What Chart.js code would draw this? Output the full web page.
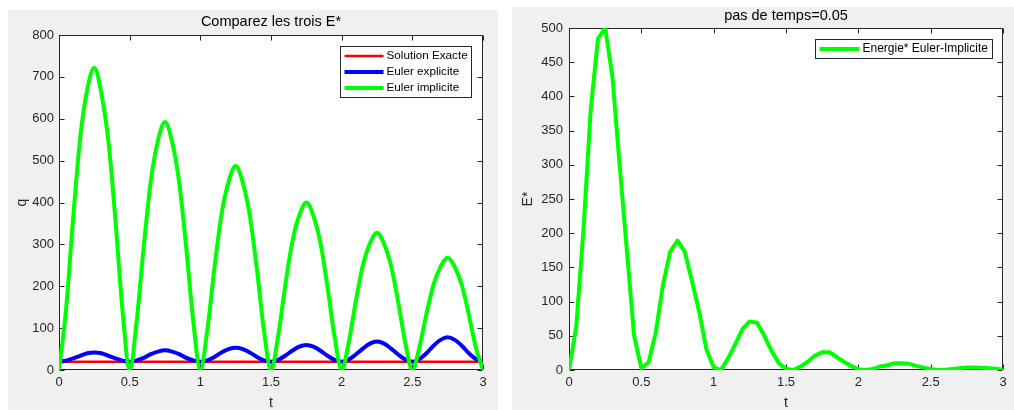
<!DOCTYPE html>
<html>
<head>
<meta charset="utf-8">
<script src="https://cdn.jsdelivr.net/npm/chart.js@4.4.0/dist/chart.umd.min.js"></script>
<style>
    body { margin: 0; background: #fff; width: 1014px; height: 410px; overflow: hidden; position: relative; }
    .panel { position: absolute; background: #f0f0f0; }
    canvas { display: block; }
</style>
</head>
<body>
<div class="panel" style="left:8px;top:10px;width:490px;height:400px">
    <canvas id="chartLeft" width="490" height="400"></canvas>
</div>
<div class="panel" style="left:512px;top:7px;width:502px;height:403px">
    <canvas id="chartRight" width="502" height="403"></canvas>
</div>
<script>
const FONT = '"Liberation Sans", Arial, sans-serif'

const tValues = [
    0, 0.05, 0.1, 0.15, 0.2, 0.25, 0.3, 0.35, 0.4, 0.45, 0.5,
    0.55, 0.6, 0.65, 0.7, 0.75, 0.8, 0.85, 0.9, 0.95, 1,
    1.05, 1.1, 1.15, 1.2, 1.25, 1.3, 1.35, 1.4, 1.45, 1.5,
    1.55, 1.6, 1.65, 1.7, 1.75, 1.8, 1.85, 1.9, 1.95, 2,
    2.05, 2.1, 2.15, 2.2, 2.25, 2.3, 2.35, 2.4, 2.45, 2.5,
    2.55, 2.6, 2.65, 2.7, 2.75, 2.8, 2.85, 2.9, 2.95, 3
]

// left plot: Comparez les trois E*
const exactValues = [
    20, 20, 20, 20, 20, 20, 20, 20, 20, 20, 20,
    20, 20, 20, 20, 20, 20, 20, 20, 20, 20,
    20, 20, 20, 20, 20, 20, 20, 20, 20, 20,
    20, 20, 20, 20, 20, 20, 20, 20, 20, 20,
    20, 20, 20, 20, 20, 20, 20, 20, 20, 20,
    20, 20, 20, 20, 20, 20, 20, 20, 20, 20
]
const explicitValues = [
    20, 22, 28, 34, 40, 42, 40, 34, 28, 22, 20,
    23, 29, 38, 44, 47, 44, 38, 29, 23, 20,
    23, 31, 42, 50, 53, 50, 42, 31, 23, 20,
    24, 34, 46, 56, 60, 56, 46, 34, 24, 20,
    25, 37, 51, 63, 68, 63, 51, 37, 25, 20,
    26, 40, 58, 72, 78, 72, 58, 40, 26, 20
]
const implicitValues = [
    0, 145, 362, 555, 670, 722, 660, 545, 355, 140, 0,
    118, 296, 452, 548, 592, 545, 449, 293, 116, 0,
    97, 244, 372, 450, 487, 448, 369, 241, 95, 0,
    80, 200, 305, 369, 400, 368, 303, 198, 79, 0,
    66, 164, 250, 302, 328, 301, 248, 162, 65, 0,
    54, 134, 204, 247, 268, 246, 203, 132, 53, 0
]

// right plot: pas de temps=0.05
const energyValues = [
    0, 63, 205, 380, 484, 500, 429, 300, 175, 50, 3,
    11, 55, 125, 173, 189, 173, 130, 85, 30, 4,
    0, 17, 38, 60, 71, 69, 50, 28, 10, 2,
    0, 5, 12, 21, 26, 26, 19, 12, 6, 1,
    0, 1.5, 5, 7, 10, 10, 9, 6, 3.5, 1.5,
    0, 0.5, 1.5, 2.5, 3.5, 3.5, 3.2, 2.5, 1.8, 0.8
]

const toPoints = (values) => values.map((v, i) => ({ x: tValues[i], y: v }))

const matlabAxes = {
    id: 'matlabAxes',
    beforeDraw(chart) {
        const a = chart.chartArea
        const ctx = chart.ctx
        ctx.save()
        ctx.fillStyle = '#ffffff'
        ctx.fillRect(a.left, a.top, a.right - a.left, a.bottom - a.top)
        ctx.restore()
    },
    beforeDatasetsDraw(chart) {
        const a = chart.chartArea
        const ctx = chart.ctx
        const L = Math.round(a.left) + 0.5
        const R = Math.round(a.right) - 0.5
        const T = Math.round(a.top) + 0.5
        const B = Math.round(a.bottom) - 0.5
        const len = 5
        ctx.save()
        ctx.strokeStyle = '#262626'
        ctx.lineWidth = 1
        ctx.beginPath()
        chart.scales.x.ticks.forEach(t => {
            const px = Math.round(chart.scales.x.getPixelForValue(t.value)) + 0.5
            ctx.moveTo(px, B); ctx.lineTo(px, B - len)
            ctx.moveTo(px, T); ctx.lineTo(px, T + len)
        })
        chart.scales.y.ticks.forEach(t => {
            const py = Math.round(chart.scales.y.getPixelForValue(t.value)) + 0.5
            ctx.moveTo(L, py); ctx.lineTo(L + len, py)
            ctx.moveTo(R, py); ctx.lineTo(R - len, py)
        })
        ctx.stroke()
        ctx.strokeRect(L, T, R - L, B - T)
        ctx.restore()
    },
    afterDraw(chart) {
        const opts = chart.options.plugins.boxLegend
        const a = chart.chartArea
        const ctx = chart.ctx
        const items = chart.data.datasets
        const w = opts.width
        const h = items.length * 16 + 3
        const x0 = Math.round(a.right - opts.right - w) + 0.5
        const y0 = Math.round(a.top + opts.top) + 0.5
        ctx.save()
        ctx.fillStyle = '#ffffff'
        ctx.fillRect(x0, y0, w, h)
        ctx.strokeStyle = '#262626'
        ctx.lineWidth = 1
        ctx.strokeRect(x0, y0, w, h)
        ctx.font = opts.fontSize + 'px ' + FONT
        ctx.textBaseline = 'middle'
        ctx.textAlign = 'left'
        items.forEach((d, i) => {
            const cy = y0 + 9.5 + i * 16
            ctx.strokeStyle = d.borderColor
            ctx.lineWidth = d.borderWidth
            ctx.beginPath()
            ctx.moveTo(x0 + 4, cy)
            ctx.lineTo(x0 + 4 + opts.sample, cy)
            ctx.stroke()
            ctx.fillStyle = '#000000'
            ctx.fillText(d.label, x0 + 7 + opts.sample, cy)
        })
        ctx.restore()
    }
}

const makeOptions = ({ title, titlePad, yTitle, yTitlePad, yMax, yStep, yTickPad, plotLeft, bottomH, rightPad, legend }) => ({
    responsive: false,
    animation: false,
    layout: { padding: { top: 0, left: 0, right: rightPad, bottom: 0 } },
    elements: { point: { radius: 0 } },
    plugins: {
        legend: { display: false },
        tooltip: { enabled: false },
        title: {
            display: true,
            fullSize: false,
            text: title,
            color: '#000000',
            font: { family: FONT, size: 14.5, weight: 'normal' },
            padding: titlePad
        },
        boxLegend: legend
    },
    scales: {
        x: {
            type: 'linear',
            min: 0,
            max: 3,
            grid: { display: false, drawTicks: false },
            border: { display: false },
            ticks: {
                stepSize: 0.5,
                autoSkip: false,
                maxRotation: 0,
                padding: 5,
                color: '#262626',
                font: { family: FONT, size: 13 },
                callback: (v) => String(v)
            },
            title: {
                display: true,
                text: 't',
                color: '#262626',
                font: { family: FONT, size: 14, lineHeight: 1 },
                padding: { top: 0, bottom: 0 }
            },
            afterFit: (scale) => { scale.height = bottomH }
        },
        y: {
            min: 0,
            max: yMax,
            grid: { display: false, drawTicks: false },
            border: { display: false },
            ticks: {
                stepSize: yStep,
                padding: yTickPad,
                color: '#262626',
                font: { family: FONT, size: 13 }
            },
            title: {
                display: true,
                text: yTitle,
                color: '#262626',
                font: { family: FONT, size: 14, lineHeight: 1 },
                padding: { top: yTitlePad, bottom: 0 }
            },
            afterFit: (scale) => { scale.width = plotLeft }
        }
    }
})

new Chart(document.getElementById('chartLeft'), {
    type: 'line',
    data: {
        datasets: [
            {
                label: 'Solution Exacte',
                data: toPoints(exactValues),
                borderColor: '#ff0000',
                borderWidth: 2.5,
                order: 3
            },
            {
                label: 'Euler explicite',
                data: toPoints(explicitValues),
                borderColor: '#0000ff',
                borderWidth: 4,
                cubicInterpolationMode: 'monotone',
                order: 2
            },
            {
                label: 'Euler implicite',
                data: toPoints(implicitValues),
                borderColor: '#00ff00',
                borderWidth: 4,
                cubicInterpolationMode: 'monotone',
                order: 1
            }
        ]
    },
    options: makeOptions({
        title: 'Comparez les trois E*',
        titlePad: { top: 3.5, bottom: 4.1 },
        yTitle: 'q',
        yTitlePad: 7,
        yMax: 800,
        yStep: 100,
        yTickPad: 5,
        plotLeft: 51,
        bottomH: 40,
        rightPad: 15,
        legend: { width: 131, right: 12, top: 10.5, sample: 39, fontSize: 11.7 }
    }),
    plugins: [matlabAxes]
})

new Chart(document.getElementById('chartRight'), {
    type: 'line',
    data: {
        datasets: [
            {
                label: 'Energie* Euler-Implicite',
                data: toPoints(energyValues),
                borderColor: '#00ff00',
                borderWidth: 4,
                borderJoinStyle: 'round'
            }
        ]
    },
    options: makeOptions({
        title: 'pas de temps=0.05',
        titlePad: { top: 0, bottom: 3.6 },
        yTitle: 'E*',
        yTitlePad: 9,
        yMax: 500,
        yStep: 50,
        yTickPad: 6,
        plotLeft: 57,
        bottomH: 40,
        rightPad: 11,
        legend: { width: 177, right: 11, top: 11, sample: 40, fontSize: 12 }
    }),
    plugins: [matlabAxes]
})
</script>
</body>
</html>
